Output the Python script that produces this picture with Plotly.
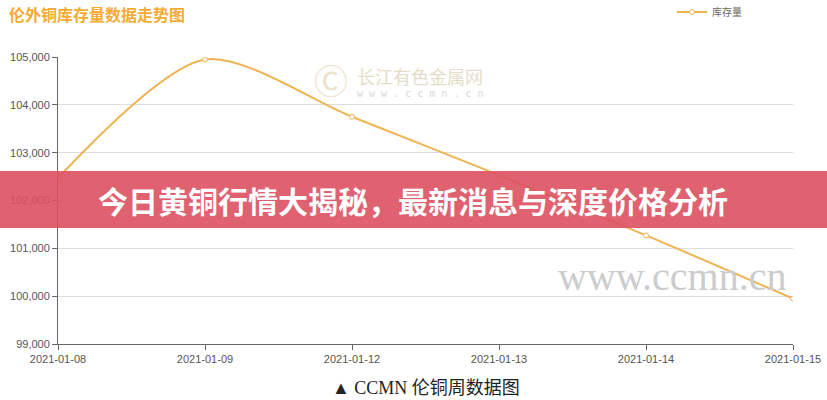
import plotly.graph_objects as go

dates = ["2021-01-08", "2021-01-09", "2021-01-12", "2021-01-13", "2021-01-14", "2021-01-15"]
stock = [102470, 104950, 103750, 102530, 101270, 99950]
series_name = "库存量"
y_ticks = [99000, 100000, 101000, 102000, 103000, 104000, 105000]
y_tick_text = ["99,000", "100,000", "101,000", "102,000", "103,000", "104,000", "105,000"]
title_text = "伦外铜库存量数据走势图"
banner_text = "今日黄铜行情大揭秘，最新消息与深度价格分析"
caption_text = "▲ CCMN 伦铜周数据图"

W, H = 827, 400
L, R, T, B = 58, 34, 57, 56
PW, PH = W - L - R, H - T - B


def px(x):
    return (x - L) / PW


def py(y):
    return (H - B - y) / PH


fig = go.Figure()
fig.add_trace(go.Scatter(
    x=dates, y=stock, name=series_name, mode="lines+markers",
    line=dict(color="#f0b352", width=2, shape="spline", smoothing=0.8),
    marker=dict(size=5, color="white", line=dict(color="#f0b352", width=1)),
))

fig.update_layout(
    width=W, height=H, autosize=False,
    margin=dict(l=L, r=R, t=T, b=B, autoexpand=False),
    paper_bgcolor="white", plot_bgcolor="white",
    font=dict(family="Noto Sans CJK SC, sans-serif", color="#555", size=11),
    showlegend=True,
    legend=dict(xref="container", yref="container", x=672 / W, y=1 - 12 / H,
                xanchor="left", yanchor="middle", orientation="h",
                font=dict(size=10, color="#666"), bgcolor="rgba(0,0,0,0)"),
    xaxis=dict(type="category", range=[0, 5], showgrid=False, showline=True,
               automargin=False,
               linecolor="#666", linewidth=1, ticks="outside", ticklen=5,
               tickcolor="#666", tickfont=dict(size=11, color="#555",
               family="Liberation Sans, sans-serif")),
    yaxis=dict(range=[99000, 105000], tickvals=y_ticks, ticktext=y_tick_text,
               automargin=False,
               showgrid=True, gridcolor="#dddddd", showline=True, linecolor="#666",
               linewidth=1, ticks="outside", ticklen=5, tickcolor="#666",
               zeroline=False,
               tickfont=dict(size=11, color="#555", family="Liberation Sans, sans-serif")),
)

# title
fig.add_annotation(text="<b>" + title_text + "</b>", xref="paper", yref="paper",
                   x=px(7), y=py(14), xanchor="left", yanchor="middle",
                   showarrow=False, font=dict(size=16, color="#f5ab35",
                                              family="Noto Sans CJK SC"))

# watermarks
fig.add_annotation(text="Ⓒ", xref="paper", yref="paper", x=px(331), y=py(79),
                   xanchor="center", yanchor="middle",
                   showarrow=False, font=dict(size=34, color="#ece3cc"))
fig.add_annotation(text="长江有色金属网", xref="paper", yref="paper", x=px(420),
                   y=py(76), xanchor="center", yanchor="middle", showarrow=False,
                   font=dict(size=18, color="#e6ddc8", family="Noto Sans CJK SC"))
fig.add_annotation(text="w w w . c c m n . c n", xref="paper", yref="paper",
                   x=px(420), y=py(93), xanchor="center", yanchor="middle", showarrow=False,
                   font=dict(size=10, color="#d8d8d8", family="DejaVu Sans Mono"))
fig.add_annotation(text="www.ccmn.cn", xref="paper", yref="paper", x=px(672),
                   y=py(276), xanchor="center", yanchor="middle", showarrow=False,
                   font=dict(size=40, color="#cccccc", family="Liberation Serif"))

# banner
fig.add_shape(type="rect", xref="paper", yref="paper", x0=px(-5), x1=px(W + 5),
              y0=py(228), y1=py(171), layer="above",
              line=dict(width=0), fillcolor="rgba(221,80,96,0.9)")
fig.add_annotation(text="<b>" + banner_text + "</b>", xref="paper", yref="paper",
                   x=px(413), y=py(200), xanchor="center", yanchor="middle",
                   showarrow=False,
                   font=dict(size=30, color="white", family="Noto Sans CJK SC"))

# caption
fig.add_annotation(text=caption_text, xref="paper", yref="paper", x=px(426),
                   y=py(388), showarrow=False, xanchor="center", yanchor="middle",
                   font=dict(size=18, color="#222",
                             family="Liberation Serif, Noto Sans CJK SC"))

fig.write_html("out.html", config={"displayModeBar": False},
               post_script="document.body.style.margin='0';document.body.style.padding='0';")
